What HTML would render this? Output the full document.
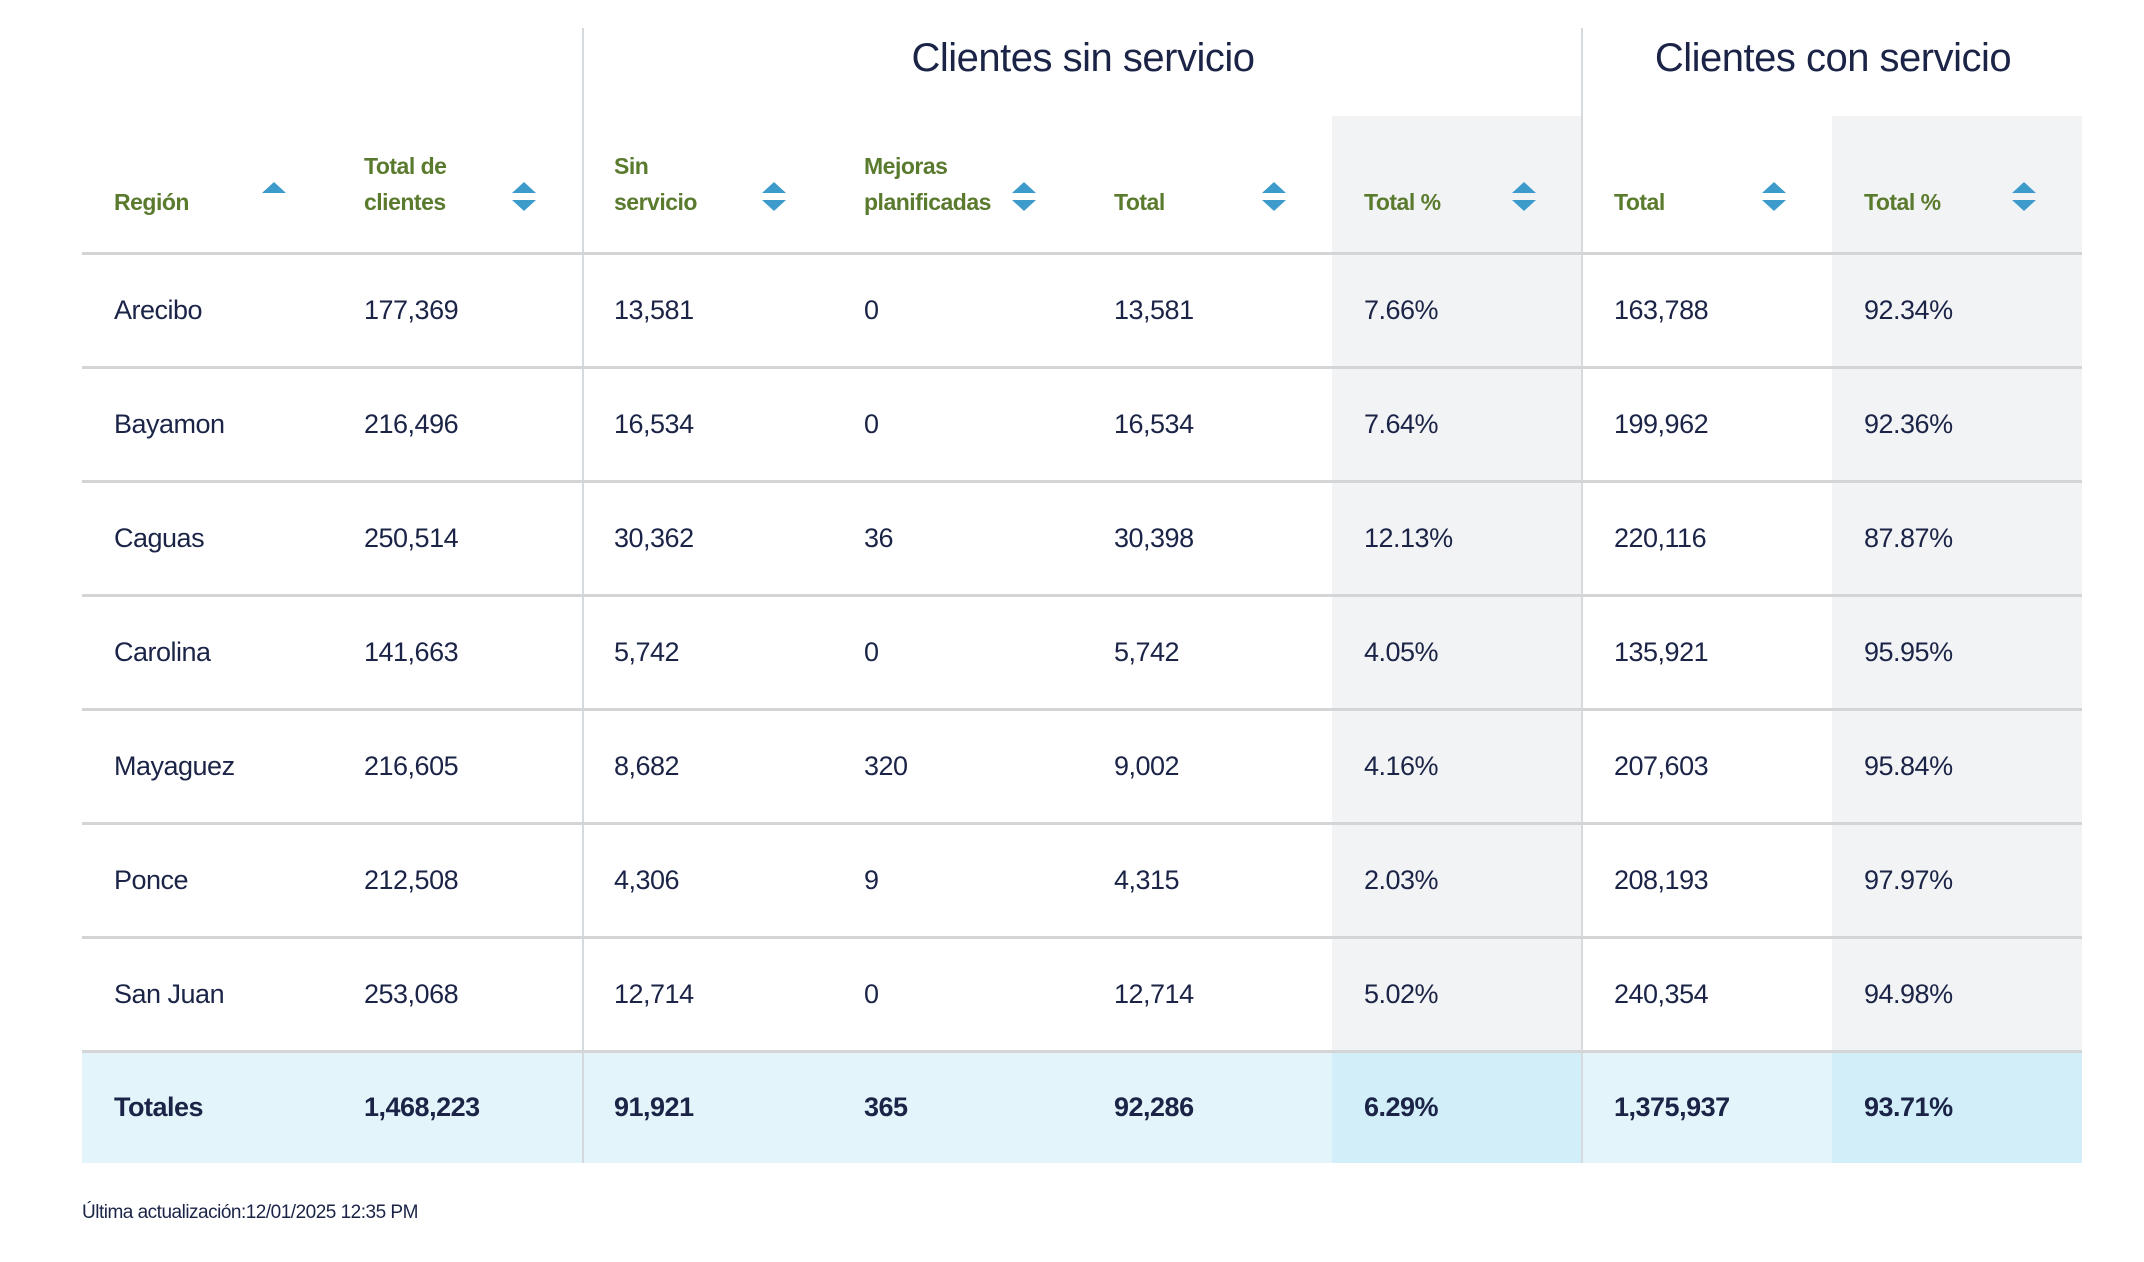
<!DOCTYPE html>
<html><head><meta charset="utf-8"><style>
body{margin:0;width:2144px;height:1262px;background:#fff;font-family:"Liberation Sans",sans-serif;position:relative;overflow:hidden}
.a{position:absolute}
.t{position:absolute;white-space:nowrap}
.h{color:#5a7a2e;font-weight:bold;font-size:23px;line-height:36px;letter-spacing:-0.5px}
.b{color:#1b2447;font-size:27px;letter-spacing:-0.5px}
.up{position:absolute;width:0;height:0;border-left:12px solid transparent;border-right:12px solid transparent;border-bottom:11px solid #3d9bcc}
.dn{position:absolute;width:0;height:0;border-left:12px solid transparent;border-right:12px solid transparent;border-top:11px solid #3d9bcc}
</style></head><body>
<div class="a" style="left:1332px;top:116px;width:250px;height:937px;background:#f2f3f5"></div>
<div class="a" style="left:1832px;top:116px;width:250px;height:937px;background:#f2f3f5"></div>
<div class="a" style="left:82px;top:1053px;width:2000px;height:110px;background:#e3f4fb"></div>
<div class="a" style="left:1332px;top:1053px;width:250px;height:110px;background:#d1eef9"></div>
<div class="a" style="left:1832px;top:1053px;width:250px;height:110px;background:#d1eef9"></div>
<div class="a" style="left:582px;top:28px;width:2px;height:1135px;background:#d5dadf"></div>
<div class="a" style="left:1581px;top:28px;width:2px;height:1135px;background:#d5dadf"></div>
<div class="a" style="left:82px;top:252px;width:2000px;height:3px;background:#d4d5d7"></div>
<div class="a" style="left:82px;top:366px;width:2000px;height:3px;background:#d4d5d7"></div>
<div class="a" style="left:82px;top:480px;width:2000px;height:3px;background:#d4d5d7"></div>
<div class="a" style="left:82px;top:594px;width:2000px;height:3px;background:#d4d5d7"></div>
<div class="a" style="left:82px;top:708px;width:2000px;height:3px;background:#d4d5d7"></div>
<div class="a" style="left:82px;top:822px;width:2000px;height:3px;background:#d4d5d7"></div>
<div class="a" style="left:82px;top:936px;width:2000px;height:3px;background:#d4d5d7"></div>
<div class="a" style="left:82px;top:1050px;width:2000px;height:3px;background:#d4d5d7"></div>
<div class="t" style="left:584px;width:998px;top:36px;text-align:center;font-size:40px;color:#1b2447;letter-spacing:-0.5px">Clientes sin servicio</div>
<div class="t" style="left:1583px;width:500px;top:36px;text-align:center;font-size:40px;color:#1b2447;letter-spacing:-0.5px">Clientes con servicio</div>
<div class="t h" style="left:114px;top:184px">Región</div>
<div class="t h" style="left:364px;top:148px">Total de<br>clientes</div>
<div class="t h" style="left:614px;top:148px">Sin<br>servicio</div>
<div class="t h" style="left:864px;top:148px">Mejoras<br>planificadas</div>
<div class="t h" style="left:1114px;top:184px">Total</div>
<div class="t h" style="left:1364px;top:184px">Total %</div>
<div class="t h" style="left:1614px;top:184px">Total</div>
<div class="t h" style="left:1864px;top:184px">Total %</div>
<div class="up" style="left:262px;top:182px"></div>
<div class="up" style="left:512px;top:182px"></div><div class="dn" style="left:512px;top:200px"></div>
<div class="up" style="left:762px;top:182px"></div><div class="dn" style="left:762px;top:200px"></div>
<div class="up" style="left:1012px;top:182px"></div><div class="dn" style="left:1012px;top:200px"></div>
<div class="up" style="left:1262px;top:182px"></div><div class="dn" style="left:1262px;top:200px"></div>
<div class="up" style="left:1512px;top:182px"></div><div class="dn" style="left:1512px;top:200px"></div>
<div class="up" style="left:1762px;top:182px"></div><div class="dn" style="left:1762px;top:200px"></div>
<div class="up" style="left:2012px;top:182px"></div><div class="dn" style="left:2012px;top:200px"></div>
<div id="rows"></div>
<script>
var d=[["Arecibo","177,369","13,581","0","13,581","7.66%","163,788","92.34%"],
["Bayamon","216,496","16,534","0","16,534","7.64%","199,962","92.36%"],
["Caguas","250,514","30,362","36","30,398","12.13%","220,116","87.87%"],
["Carolina","141,663","5,742","0","5,742","4.05%","135,921","95.95%"],
["Mayaguez","216,605","8,682","320","9,002","4.16%","207,603","95.84%"],
["Ponce","212,508","4,306","9","4,315","2.03%","208,193","97.97%"],
["San Juan","253,068","12,714","0","12,714","5.02%","240,354","94.98%"],
["Totales","1,468,223","91,921","365","92,286","6.29%","1,375,937","93.71%"]];
var h="";
for(var r=0;r<8;r++){var cy=r<7?311+114*r:1108;for(var c=0;c<8;c++){
h+='<div class="t b" style="left:'+(114+250*c)+'px;top:'+(cy-16)+'px;'+(r==7?'font-weight:bold;':'')+'">'+d[r][c]+'</div>';}}
document.getElementById("rows").innerHTML=h;
</script>
<div class="t" style="left:82px;top:1202px;font-size:19px;color:#1b2447;letter-spacing:-0.5px">Última actualización:12/01/2025 12:35 PM</div>
</body></html>
